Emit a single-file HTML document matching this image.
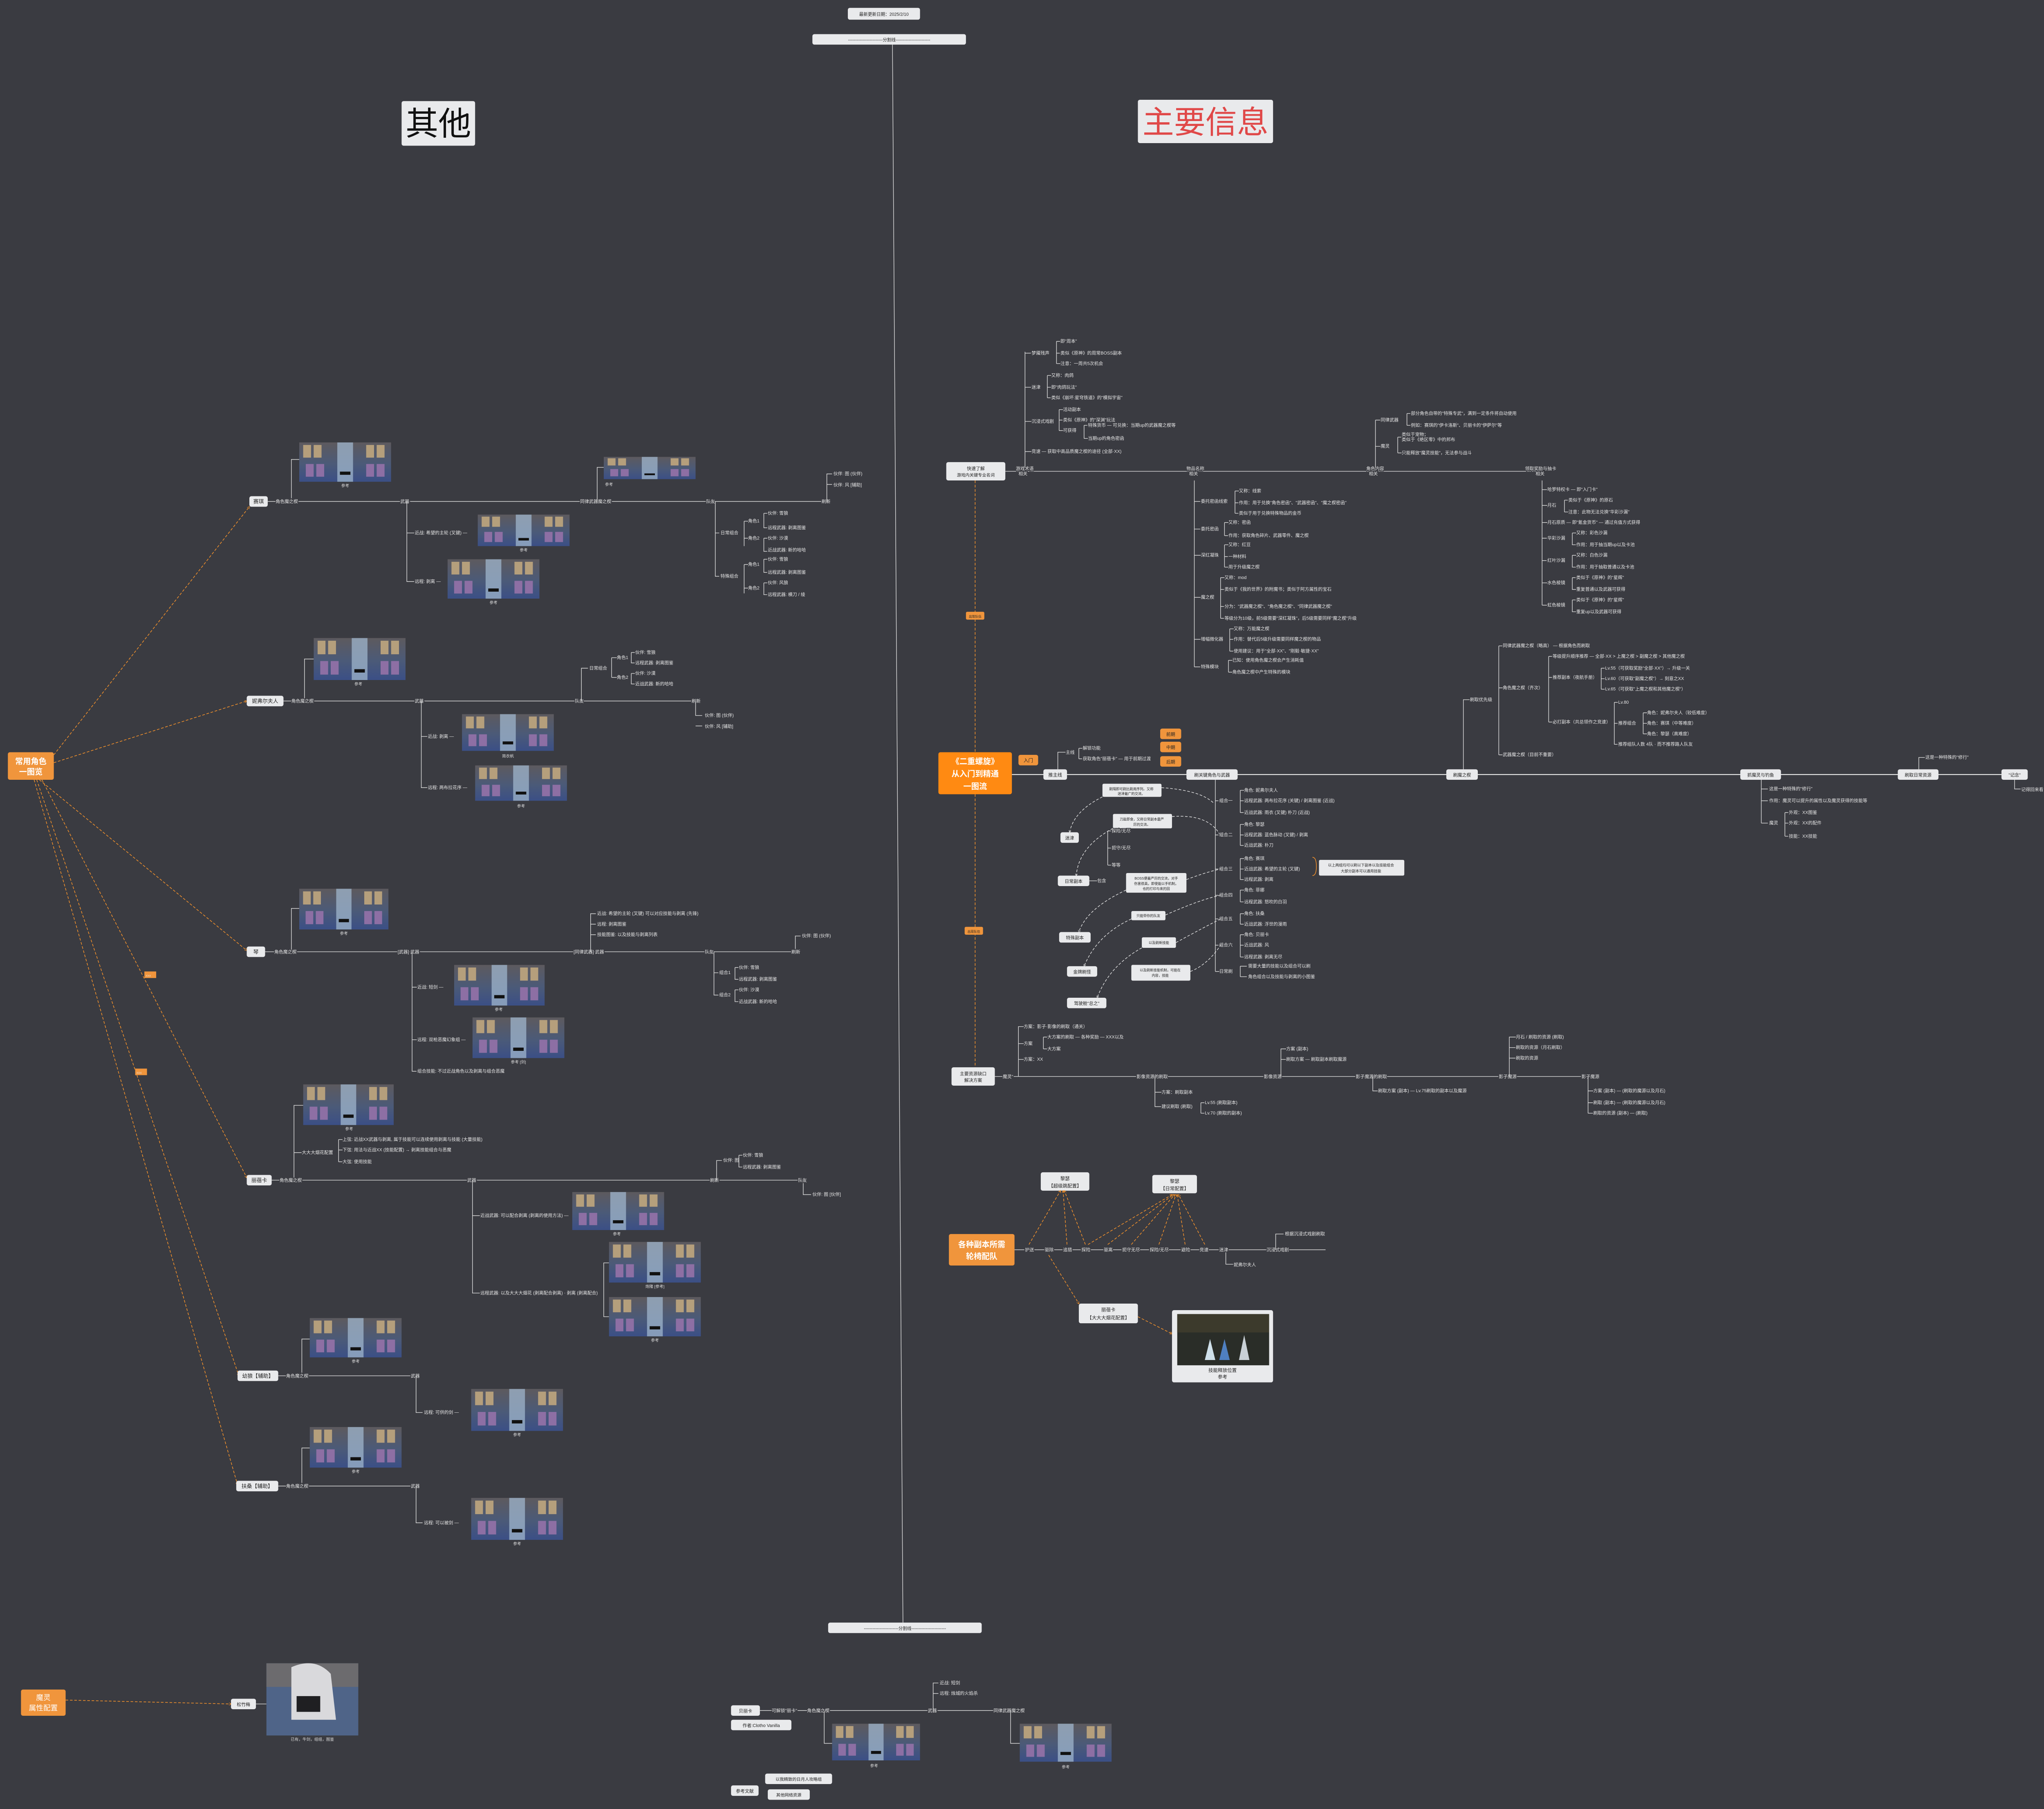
<!DOCTYPE html>
<html><head><meta charset="utf-8">
<style>
html,body{margin:0;padding:0;background:#3a3b41;}
svg{display:block;}
.t{font-family:"Liberation Sans","Noto Sans CJK SC",sans-serif;font-size:3.4px;fill:#e6e6e6;paint-order:stroke;stroke:#3a3b41;stroke-width:1.2px;}
.nt{font-family:"Liberation Sans","Noto Sans CJK SC",sans-serif;font-size:4px;fill:#222;text-anchor:middle;}
.ot{font-family:"Liberation Sans","Noto Sans CJK SC",sans-serif;font-weight:bold;fill:#fff;text-anchor:middle;}
.n{fill:#e9eaec;}
.o{fill:#f0953c;}
.l{stroke:#dcdcdc;stroke-width:0.45;fill:none;}
.L{stroke:#e6e6e6;stroke-width:0.7;fill:none;}
.od{stroke:#f0902c;stroke-width:0.5;fill:none;stroke-dasharray:2 1.3;}
.wd{stroke:#e6e6e6;stroke-width:0.45;fill:none;stroke-dasharray:2 1.3;}
.cap{font-family:"Liberation Sans","Noto Sans CJK SC",sans-serif;font-size:3px;fill:#ddd;text-anchor:middle;}
</style></head>
<body>
<svg width="5034" height="4424" viewBox="0 0 1568 1378" preserveAspectRatio="none" xmlns="http://www.w3.org/2000/svg">
<defs>
<linearGradient id="bg1" x1="0" y1="0" x2="0" y2="1">
<stop offset="0" stop-color="#5d5a5e"/><stop offset="0.55" stop-color="#4b5a78"/><stop offset="1" stop-color="#3b4f86"/>
</linearGradient>
<symbol id="th" viewBox="0 0 70 31" preserveAspectRatio="none">
<rect width="70" height="31" fill="url(#bg1)"/>
<rect x="29" y="0" width="12" height="31" fill="#9fb6cc" opacity="0.75"/>
<g fill="#b59f7c">
<rect x="3" y="2" width="6" height="10"/><rect x="11" y="2" width="6" height="10"/><rect x="51" y="2" width="6" height="10"/><rect x="59" y="2" width="6" height="10"/>
</g>
<g fill="#8d6fa4">
<rect x="5" y="17" width="6" height="10"/><rect x="13" y="17" width="6" height="10"/><rect x="51" y="17" width="6" height="10"/><rect x="59" y="17" width="6" height="10"/>
</g>
<rect x="31" y="23" width="8" height="2.5" fill="#111"/>
</symbol>
<marker id="ar" viewBox="0 0 6 6" refX="5" refY="3" markerWidth="4" markerHeight="4" orient="auto"><path d="M0 0L6 3L0 6" fill="none" stroke="#f0902c" stroke-width="1"/></marker>
<marker id="aw" viewBox="0 0 6 6" refX="5" refY="3" markerWidth="4" markerHeight="4" orient="auto"><path d="M0 0L6 3L0 6" fill="none" stroke="#e6e6e6" stroke-width="1"/></marker>
</defs>

<rect width="1568" height="1378" fill="#3a3b41"/>

<!-- top -->
<rect class="n" x="646" y="6" width="55" height="9" rx="1.5"/>
<text class="nt" x="673.5" y="12" style="font-size:3.3px">最新更新日期：2025/2/10</text>
<rect class="n" x="619" y="26" width="117" height="8" rx="1.5"/>
<text class="nt" x="677.5" y="31.5" style="font-size:3.3px">------------------------分割线------------------------</text>
<path class="l" d="M680 34 L688 1236"/>
<rect class="n" x="631" y="1236" width="117" height="8" rx="1.5"/>
<text class="nt" x="689.5" y="1241.5" style="font-size:3.3px">------------------------分割线------------------------</text>

<rect class="n" x="306" y="77" width="56" height="34" rx="1.5"/>
<text class="nt" x="334" y="103" style="font-size:25px;fill:#111">其他</text>
<rect class="n" x="867" y="76" width="103" height="33" rx="1.5"/>
<text class="nt" x="918.5" y="101.5" style="font-size:24px;fill:#e04848">主要信息</text>

<!-- ================= LEFT ================= -->
<rect class="o" x="6" y="573" width="35" height="21" rx="1.5"/>
<text class="ot" x="23.5" y="582" style="font-size:6px">常用角色</text>
<text class="ot" x="23.5" y="590" style="font-size:6px">一图览</text>
<path class="od" d="M41 575 L190 386" marker-end="url(#ar)"/>
<path class="od" d="M41 581 L188 534" marker-end="url(#ar)"/>
<path class="od" d="M30 594 L188 724" marker-end="url(#ar)"/>
<path class="od" d="M32 594 L188 897" marker-end="url(#ar)"/>
<path class="od" d="M28 594 L182 1048" marker-end="url(#ar)"/>
<path class="od" d="M26 594 L181 1131" marker-end="url(#ar)"/>
<rect class="o" x="110" y="740" width="9" height="5"/><text class="t" x="111" y="744" style="font-size:2px;stroke:none">XXX</text>
<rect class="o" x="103" y="814" width="9" height="5"/><text class="t" x="104" y="818" style="font-size:2px;stroke:none">XXX</text>

<!-- 赛琪 -->
<rect class="n" x="190" y="378" width="14" height="8" rx="1.5"/><text class="nt" x="197" y="383.5">赛琪</text>
<path class="l" d="M204 382 H630"/>
<path class="l" d="M222 382 V350 H228"/>
<use href="#th" x="228" y="337" width="70" height="30"/><text class="cap" x="263" y="371">参考</text>
<text class="t" x="210" y="383.2">角色魔之楔</text>
<text class="t" x="305" y="383.2">武器</text>
<text class="t" x="442" y="383.2">同律武器魔之楔</text>
<path class="l" d="M455 382 V356 H460"/>
<use href="#th" x="460" y="348" width="70" height="17"/><text class="cap" x="464" y="370">参考</text>
<text class="t" x="538" y="383.2">队友</text>
<text class="t" x="626" y="383.2">刷新</text>
<path class="l" d="M630 382 V361 H634 M630 369 H634"/>
<text class="t" x="635" y="362">伙伴: 图 (伙伴)</text><text class="t" x="635" y="370.5">伙伴: 风 [辅助]</text>
<path class="l" d="M310 382 V443 H316 M310 406 H316"/>
<text class="t" x="316" y="407">近战: 希望的主轮 (叉键) —</text>
<use href="#th" x="364" y="392" width="70" height="24"/><text class="cap" x="399" y="420">参考</text>
<text class="t" x="316" y="444">远程: 剥离 —</text>
<use href="#th" x="341" y="426" width="70" height="30"/><text class="cap" x="376" y="460">参考</text>
<path class="l" d="M545 382 V439 H548 M545 406 H548"/>
<text class="t" x="549" y="407">日常组合</text><text class="t" x="549" y="440">特殊组合</text>
<path class="l" d="M567 397 V416 M567 397 H570 M567 410 H570 M567 430 V452 M567 430 H570 M567 448 H570"/>
<text class="t" x="570" y="398">角色1</text><text class="t" x="570" y="411">角色2</text><text class="t" x="570" y="431">角色1</text><text class="t" x="570" y="449">角色2</text>
<path class="l" d="M582 391 V402 H585 M582 391 H585 M582 410 V420 H585 M582 410 H585 M582 426 V436 H585 M582 426 H585 M582 444 V453 H585 M582 444 H585"/>
<text class="t" x="585" y="392">伙伴: 雪狼</text><text class="t" x="585" y="403">远程武器: 剥离图鉴</text>
<text class="t" x="585" y="411">伙伴: 沙漠</text><text class="t" x="585" y="420">近战武器: 新的哈哈</text>
<text class="t" x="585" y="427">伙伴: 雪狼</text><text class="t" x="585" y="437">远程武器: 剥离图鉴</text>
<text class="t" x="585" y="445">伙伴: 风狼</text><text class="t" x="585" y="454">远程武器: 横刀 / 绫</text>

<!-- 妮弗尔夫人 -->
<rect class="n" x="188" y="530" width="28" height="8" rx="1.5"/><text class="nt" x="202" y="535.5">妮弗尔夫人</text>
<path class="l" d="M216 534 H530"/>
<path class="l" d="M232 534 V502 H239"/>
<use href="#th" x="239" y="486" width="70" height="32"/><text class="cap" x="273" y="522">参考</text>
<text class="t" x="222" y="535.2">角色魔之楔</text>
<text class="t" x="316" y="535.2">武器</text>
<text class="t" x="438" y="535.2">队友</text>
<text class="t" x="527" y="535.2">刷新</text>
<path class="l" d="M530 534 V545 H535 M530 553 H535"/>
<text class="t" x="537" y="546">伙伴: 图 (伙伴)</text><text class="t" x="537" y="554.5">伙伴: 风 [辅助]</text>
<path class="l" d="M443 534 V509 H448"/>
<text class="t" x="449" y="510">日常组合</text>
<path class="l" d="M466 501 V516 M466 501 H470 M466 516 H470"/>
<text class="t" x="470" y="502">角色1</text><text class="t" x="470" y="517">角色2</text>
<path class="l" d="M481 497 V505 H484 M481 497 H484 M481 513 V521 H484 M481 513 H484"/>
<text class="t" x="484" y="498">伙伴: 雪狼</text><text class="t" x="484" y="506">远程武器: 剥离图鉴</text>
<text class="t" x="484" y="514">伙伴: 沙漠</text><text class="t" x="484" y="522">近战武器: 新的哈哈</text>
<path class="l" d="M321 534 V600 H326 M321 561 H326"/>
<text class="t" x="326" y="562">近战: 剥离 —</text>
<use href="#th" x="352" y="544" width="70" height="28"/><text class="cap" x="387" y="577">简衣帆</text>
<text class="t" x="326" y="601">远程: 两布拉花序 —</text>
<use href="#th" x="362" y="583" width="70" height="27"/><text class="cap" x="397" y="615">参考</text>

<!-- 琴 -->
<rect class="n" x="188" y="721" width="14" height="8" rx="1.5"/><text class="nt" x="195" y="726.5">琴</text>
<path class="l" d="M202 725 H610"/>
<path class="l" d="M222 725 V692 H228"/>
<use href="#th" x="228" y="677" width="68" height="31"/><text class="cap" x="262" y="712">参考</text>
<text class="t" x="209" y="726.2">角色魔之楔</text>
<text class="t" x="303" y="726.2">[武器] 武器</text>
<text class="t" x="437" y="726.2">[同律武器] 武器</text>
<text class="t" x="537" y="726.2">队友</text>
<path class="l" d="M450 725 V696 H454 M450 704 H454 M450 712 H454"/>
<text class="t" x="455" y="697">近战: 希望的主轮 (叉键) 可以对应技能与剥离 (先锋)</text>
<text class="t" x="455" y="705">远程: 剥离图鉴</text>
<text class="t" x="455" y="713">技能图鉴: 以及技能与剥离列表</text>
<path class="l" d="M606 725 V713 H610"/>
<text class="t" x="603" y="726.2">刷新</text><text class="t" x="611" y="714">伙伴: 图 (伙伴)</text>
<path class="l" d="M314 725 V816 H318 M314 752 H318 M314 792 H318"/>
<text class="t" x="318" y="753">近战: 短剑 —</text>
<use href="#th" x="346" y="735" width="69" height="31"/><text class="cap" x="380" y="770">参考</text>
<text class="t" x="318" y="793">远程: 双枪恶魔幻象组 —</text>
<use href="#th" x="360" y="775" width="70" height="31"/><text class="cap" x="395" y="810">参考 [剑]</text>
<text class="t" x="318" y="817">组合技能: 不过近战角色以及剥离与组合恶魔</text>
<path class="l" d="M544 725 V758 H548 M544 741 H548"/>
<text class="t" x="548" y="742">组合1</text><text class="t" x="548" y="759">组合2</text>
<path class="l" d="M560 737 V746 H563 M560 737 H563 M560 754 V763 H563 M560 754 H563"/>
<text class="t" x="563" y="738">伙伴: 雪狼</text><text class="t" x="563" y="747">远程武器: 剥离图鉴</text>
<text class="t" x="563" y="755">伙伴: 沙漠</text><text class="t" x="563" y="764">近战武器: 新的哈哈</text>

<!-- 丽蓓卡 -->
<rect class="n" x="188" y="895" width="19" height="8" rx="1.5"/><text class="nt" x="197.5" y="900.5">丽蓓卡</text>
<path class="l" d="M207 899 H612"/>
<path class="l" d="M224 899 V842 H231 M224 878 H230"/>
<use href="#th" x="231" y="826" width="69" height="31"/><text class="cap" x="266" y="861">参考</text>
<text class="t" x="230" y="879">大大大烟花配置</text>
<path class="l" d="M258 868 V885 M258 868 H261 M258 876 H261 M258 885 H261"/>
<text class="t" x="261" y="869">上弦: 近战XX武器与剥离, 属于技能可以连续使用剥离与技能 (大量技能)</text>
<text class="t" x="261" y="877">下弦: 用法与近战XX (技能配置)  →  剥离技能组合与恶魔</text>
<text class="t" x="261" y="886">大弦: 使用技能</text>
<text class="t" x="213" y="900.2">角色魔之楔</text>
<text class="t" x="356" y="900.2">武器</text>
<text class="t" x="541" y="900.2">刷新</text>
<path class="l" d="M546 899 V884 H550"/>
<text class="t" x="551" y="885">伙伴: 图</text>
<path class="l" d="M563 880 V889 H566 M563 880 H566"/>
<text class="t" x="566" y="881">伙伴: 雪狼</text><text class="t" x="566" y="890">远程武器: 剥离图鉴</text>
<path class="l" d="M612 899 V910 H618"/>
<text class="t" x="608" y="900.2">队友</text><text class="t" x="619" y="911">伙伴: 图 [伙伴]</text>
<path class="l" d="M360 899 V985 H366 M360 926 H366"/>
<text class="t" x="366" y="927">近战武器: 可以配合剥离 (剥离的使用方法) —</text>
<use href="#th" x="436" y="908" width="70" height="29"/><text class="cap" x="470" y="941">参考</text>
<text class="t" x="366" y="986">远程武器: 以及大大大烟花 (剥离配合剥离) · 剥离 (剥离配合)</text>
<path class="l" d="M460 985 V962 H464 M460 985 V1003 H464"/>
<use href="#th" x="464" y="946" width="70" height="31"/><text class="cap" x="499" y="981">炮隆 [参考]</text>
<use href="#th" x="464" y="988" width="70" height="30"/><text class="cap" x="499" y="1022">参考</text>

<!-- 幼狼 -->
<rect class="n" x="181" y="1044" width="31" height="8" rx="1.5"/><text class="nt" x="196.5" y="1049.5">幼狼【辅助】</text>
<path class="l" d="M212 1048 H320"/>
<path class="l" d="M230 1048 V1020 H236"/>
<use href="#th" x="236" y="1004" width="70" height="30"/><text class="cap" x="271" y="1038">参考</text>
<text class="t" x="218" y="1049.2">角色魔之楔</text><text class="t" x="313" y="1049.2">武器</text>
<path class="l" d="M317 1048 V1076 H322"/>
<text class="t" x="323" y="1077">远程: 可供的剑 —</text>
<use href="#th" x="359" y="1058" width="70" height="32"/><text class="cap" x="394" y="1094">参考</text>

<!-- 扶桑 -->
<rect class="n" x="180" y="1128" width="32" height="8" rx="1.5"/><text class="nt" x="196" y="1133.5">扶桑【辅助】</text>
<path class="l" d="M212 1132 H320"/>
<path class="l" d="M230 1132 V1103 H236"/>
<use href="#th" x="236" y="1087" width="70" height="31"/><text class="cap" x="271" y="1122">参考</text>
<text class="t" x="218" y="1133.2">角色魔之楔</text><text class="t" x="313" y="1133.2">武器</text>
<path class="l" d="M317 1132 V1160 H322"/>
<text class="t" x="323" y="1161">远程: 可以被剑 —</text>
<use href="#th" x="359" y="1141" width="70" height="32"/><text class="cap" x="394" y="1177">参考</text>

<!-- bottom left -->
<rect class="o" x="16" y="1287" width="34" height="20" rx="1.5"/>
<text class="ot" x="33" y="1295" style="font-size:5.5px;font-weight:normal">魔灵</text>
<text class="ot" x="33" y="1303" style="font-size:5.5px;font-weight:normal">属性配置</text>
<path class="od" d="M50 1295 L176 1298" marker-end="url(#ar)"/>
<rect class="n" x="176" y="1294" width="19" height="8" rx="1.5"/><text class="nt" x="185.5" y="1299.5" style="font-size:3.4px">松竹梅</text>
<path class="l" d="M195 1298 H203"/>
<rect x="203" y="1267" width="70" height="55" fill="#4f6488"/>
<rect x="203" y="1267" width="70" height="18" fill="#6c6b6e"/>
<path d="M222 1270 Q240 1262 252 1275 L256 1310 L222 1310 Z" fill="#d9d9dc"/>
<rect x="226" y="1292" width="18" height="12" fill="#1f1f22"/>
<text class="cap" x="238" y="1326">已有，牛剑，组组，图鉴</text>

<!-- bottom center -->
<rect class="n" x="557" y="1299" width="22" height="8" rx="1.5"/><text class="nt" x="568" y="1304.5" style="font-size:3.4px">贝丽卡</text>
<rect class="n" x="557" y="1310" width="46" height="8" rx="1.5"/><text class="nt" x="580" y="1315.5" style="font-size:3.4px">作者:Clotho Vanilla</text>
<path class="l" d="M579 1303 H760"/>
<text class="t" x="588" y="1304.2">可解锁"丽卡"</text>
<text class="t" x="615" y="1304.2">角色魔之楔</text>
<text class="t" x="707" y="1304.2">武器</text>
<text class="t" x="757" y="1304.2">同律武器魔之楔</text>
<path class="l" d="M711 1303 V1282 H715 M711 1290 H715"/>
<text class="t" x="716" y="1283">近战: 短剑</text><text class="t" x="716" y="1291">远程: 烛城的火焰杀</text>
<path class="l" d="M628 1303 V1328 H634"/>
<use href="#th" x="634" y="1313" width="67" height="28"/><text class="cap" x="666" y="1346">参考</text>
<path class="l" d="M770 1303 V1328 H777"/>
<use href="#th" x="777" y="1313" width="70" height="29"/><text class="cap" x="812" y="1347">参考</text>
<rect class="n" x="557" y="1360" width="21" height="8" rx="1.5"/><text class="nt" x="567.5" y="1365.5" style="font-size:3.4px">参考文献</text>
<rect class="n" x="583" y="1351" width="51" height="8" rx="1.5"/><text class="nt" x="608.5" y="1356.5" style="font-size:3.2px">以我精致的日月人攻略组</text>
<rect class="n" x="585" y="1363" width="32" height="8" rx="1.5"/><text class="nt" x="601" y="1368.5" style="font-size:3.2px">其他网络资源</text>

<!-- ================= RIGHT ================= -->
<rect x="715" y="573" width="56" height="32" rx="1.5" fill="#ff8a12"/>
<text class="ot" x="743" y="582" style="font-size:6px">《二重螺旋》</text>
<text class="ot" x="743" y="591.5" style="font-size:6px">从入门到精通</text>
<text class="ot" x="743" y="601" style="font-size:6px">一图流</text>
<rect class="o" x="776" y="575" width="15" height="8" rx="1.5"/><text class="nt" x="783.5" y="580.5" style="font-size:3.6px">入门</text>
<path class="od" d="M743 366 V573 M743 605 V813"/>
<rect class="o" x="736" y="466" width="14" height="6" rx="1"/><text class="nt" x="743" y="470.5" style="font-size:2.4px">出现队伍</text>
<rect class="o" x="735" y="706" width="14" height="6" rx="1"/><text class="nt" x="742" y="710.5" style="font-size:2.4px">出现队伍</text>

<!-- main line -->
<path class="L" d="M771 590 H1525"/>
<rect class="n" x="795" y="586" width="18" height="8" rx="1.5"/><text class="nt" x="804" y="591.5" style="font-size:3.5px">推主线</text>
<path class="l" d="M806 586 V573 H812"/>
<text class="t" x="812" y="574.2">主线</text>
<path class="l" d="M822 570 V578 M822 570 H825 M822 578 H825"/>
<text class="t" x="825" y="571">解锁功能</text><text class="t" x="825" y="579">获取角色"丽蓓卡" — 用于前期过渡</text>
<rect class="o" x="884" y="555" width="16" height="8" rx="1.5"/><text class="nt" x="892" y="560.5" style="font-size:3.4px">前期</text>
<rect class="o" x="884" y="565" width="16" height="8" rx="1.5"/><text class="nt" x="892" y="570.5" style="font-size:3.4px">中期</text>
<rect class="o" x="884" y="576" width="16" height="8" rx="1.5"/><text class="nt" x="892" y="581.5" style="font-size:3.4px">后期</text>

<rect class="n" x="904" y="586" width="39" height="8" rx="1.5"/><text class="nt" x="923.5" y="591.5" style="font-size:3.4px">刷关键角色与武器</text>
<path class="l" d="M926 594 V740"/>
<g>
<path class="l" d="M926 610 H934 M926 636 H934 M926 662 H934 M926 682 H934 M926 700 H934 M926 720 H934 M926 740 H934"/>
<text class="t" x="929" y="611">组合一</text><text class="t" x="929" y="637">组合二</text><text class="t" x="929" y="663">组合三</text>
<text class="t" x="929" y="683">组合四</text><text class="t" x="929" y="701">组合五</text><text class="t" x="929" y="721">组合六</text><text class="t" x="929" y="741">日常刷</text>
<path class="l" d="M945 602 V619 M945 602 H948 M945 610 H948 M945 619 H948"/>
<text class="t" x="948" y="603">角色: 妮弗尔夫人</text><text class="t" x="948" y="611">远程武器: 两布拉花序 (关键) / 剥离图鉴 (近战)</text><text class="t" x="948" y="620">近战武器: 雨衣 (叉键) 朴刀 (近战)</text>
<path class="l" d="M945 628 V644 M945 628 H948 M945 636 H948 M945 644 H948"/>
<text class="t" x="948" y="629">角色: 黎瑟</text><text class="t" x="948" y="637">远程武器: 蓝色脉动 (叉键) / 剥离</text><text class="t" x="948" y="645">近战武器: 朴刀</text>
<path class="l" d="M945 654 V670 M945 654 H948 M945 662 H948 M945 670 H948"/>
<text class="t" x="948" y="655">角色: 赛琪</text><text class="t" x="948" y="663">近战武器: 希望的主轮 (叉键)</text><text class="t" x="948" y="671">远程武器: 剥离</text>
<path class="l" d="M945 678 V687 M945 678 H948 M945 687 H948"/>
<text class="t" x="948" y="679">角色: 菲娜</text><text class="t" x="948" y="688">远程武器: 怒吹的白羽</text>
<path class="l" d="M945 696 V704 M945 696 H948 M945 704 H948"/>
<text class="t" x="948" y="697">角色: 扶桑</text><text class="t" x="948" y="705">近战武器: 浮世的漫雨</text>
<path class="l" d="M945 712 V729 M945 712 H948 M945 720 H948 M945 729 H948"/>
<text class="t" x="948" y="713">角色: 贝丽卡</text><text class="t" x="948" y="721">近战武器: 风</text><text class="t" x="948" y="730">远程武器: 剥离无尽</text>
<path class="l" d="M945 736 V744 M945 736 H950 M945 744 H950"/>
<text class="t" x="951" y="737">需要大量的技能以及组合可以刷</text><text class="t" x="951" y="745">角色组合以及技能与剥离的小图鉴</text>
</g>
<path d="M1000 653 Q1003 653 1003 660 Q1003 667 1000 667" stroke="#f0902c" stroke-width="0.5" fill="none"/>
<rect class="n" x="1005" y="655" width="65" height="12" rx="1"/>
<text class="nt" x="1037" y="660" style="font-size:2.8px">以上两组均可以刷以下副本以及技能组合</text>
<text class="nt" x="1037" y="664.5" style="font-size:2.8px">大部分副本可以通用技能</text>

<!-- callouts -->
<rect class="n" x="840" y="597" width="45" height="10" rx="1"/><text class="nt" x="862" y="602" style="font-size:2.6px">刷隔即可刷比刷用序列。又称</text><text class="nt" x="862" y="605.5" style="font-size:2.6px">迷津最广的交流。</text>
<rect class="n" x="848" y="620" width="45" height="11" rx="1"/><text class="nt" x="870" y="625" style="font-size:2.6px">刀盐即食，又称日常副本最严</text><text class="nt" x="870" y="629" style="font-size:2.6px">厉的交流。</text>
<rect class="n" x="858" y="665" width="46" height="15" rx="1"/><text class="nt" x="881" y="670" style="font-size:2.6px">BOSS便最严厉的交流，对手</text><text class="nt" x="881" y="674" style="font-size:2.6px">伤害很高，即使能以手机制，</text><text class="nt" x="881" y="678" style="font-size:2.6px">也的打印与来的回</text>
<rect class="n" x="862" y="694" width="26" height="7" rx="1"/><text class="nt" x="875" y="698.5" style="font-size:2.6px">只能带你的队友</text>
<rect class="n" x="870" y="714" width="26" height="8" rx="1"/><text class="nt" x="883" y="719" style="font-size:2.6px">以及刷新技能</text>
<rect class="n" x="862" y="735" width="45" height="12" rx="1"/><text class="nt" x="884" y="740" style="font-size:2.6px">以及刷新技能机制，可能在</text><text class="nt" x="884" y="744" style="font-size:2.6px">内容，技能</text>
<rect class="n" x="808" y="634" width="14" height="8" rx="1.5"/><text class="nt" x="815" y="639.5" style="font-size:3.4px">迷津</text>
<rect class="n" x="806" y="667" width="24" height="8" rx="1.5"/><text class="nt" x="818" y="672.5" style="font-size:3.4px">日常副本</text>
<path class="l" d="M830 671 H836"/><text class="t" x="836" y="672">包含</text>
<path class="l" d="M844 633 V659 M844 633 H847 M844 646 H847 M844 659 H847"/>
<text class="t" x="847" y="634">探险/无尽</text><text class="t" x="847" y="647">扼守/无尽</text><text class="t" x="847" y="660">等等</text>
<rect class="n" x="807" y="710" width="24" height="8" rx="1.5"/><text class="nt" x="819" y="715.5" style="font-size:3.4px">特殊副本</text>
<rect class="n" x="813" y="736" width="23" height="8" rx="1.5"/><text class="nt" x="824.5" y="741.5" style="font-size:3.4px">金牌刷怪</text>
<rect class="n" x="813" y="760" width="30" height="8" rx="1.5"/><text class="nt" x="828" y="765.5" style="font-size:3.4px">驾驶舱"总之"</text>
<path class="wd" d="M885 600 Q915 602 925 612"/>
<path class="wd" d="M840 607 Q818 618 815 634" marker-end="url(#aw)"/>
<path class="wd" d="M893 622 Q920 620 929 635"/>
<path class="wd" d="M848 631 Q822 645 820 667" marker-end="url(#aw)"/>
<path class="wd" d="M904 670 Q920 664 930 662"/>
<path class="wd" d="M858 678 Q828 692 822 710" marker-end="url(#aw)"/>
<path class="wd" d="M888 697 Q915 685 930 682"/>
<path class="wd" d="M862 700 Q836 712 826 736" marker-end="url(#aw)"/>
<path class="wd" d="M896 718 Q920 705 930 700"/>
<path class="wd" d="M870 722 Q845 736 836 760" marker-end="url(#aw)"/>
<path class="wd" d="M907 740 Q920 735 930 720"/>

<!-- 快速了解 -->
<rect class="n" x="721" y="352" width="45" height="14" rx="1.5"/>
<text class="nt" x="743.5" y="358" style="font-size:3.4px">快速了解</text>
<text class="nt" x="743.5" y="363" style="font-size:3.2px">游戏内关键专业名词</text>
<path class="l" d="M766 359 H1175"/>
<text class="t" x="774" y="358">游戏术语</text><text class="t" x="776" y="362">相关</text>
<text class="t" x="904" y="358">物品名称</text><text class="t" x="906" y="362">相关</text>
<text class="t" x="1041" y="358">角色内容</text><text class="t" x="1043" y="362">相关</text>
<text class="t" x="1162" y="358">领取奖励与抽卡</text><text class="t" x="1170" y="362">相关</text>
<path class="l" d="M781 356 V268 M781 269 H786 M781 295 H786 M781 321 H786 M781 344 H786"/>
<text class="t" x="786" y="270">梦魇残声</text><text class="t" x="786" y="296">迷津</text><text class="t" x="786" y="322">沉浸式戏剧</text><text class="t" x="786" y="345">竞速 — 获取中高品质魔之楔的途径 (全部·XX)</text>
<path class="l" d="M805 260 V277 M805 260 H808 M805 269 H808 M805 277 H808"/>
<text class="t" x="808" y="261">即"周本"</text><text class="t" x="808" y="270">类似《原神》的周常BOSS副本</text><text class="t" x="808" y="278">注意：一周共5次机会</text>
<path class="l" d="M798 286 V303 M798 286 H801 M798 295 H801 M798 303 H801"/>
<text class="t" x="801" y="287">又称：肉鸽</text><text class="t" x="801" y="296">即"肉鸽玩法"</text><text class="t" x="801" y="304">类似《崩坏:星穹铁道》的"模拟宇宙"</text>
<path class="l" d="M807 312 V328 M807 312 H810 M807 320 H810 M807 328 H810"/>
<text class="t" x="810" y="313">活动副本</text><text class="t" x="810" y="321">类似《原神》的"深渊"玩法</text><text class="t" x="810" y="329">可获得</text>
<path class="l" d="M826 324 V334 M826 324 H829 M826 334 H829"/>
<text class="t" x="829" y="325">特殊货币 — 可兑换：当期up的武器魔之楔等</text><text class="t" x="829" y="335">当期up的角色密函</text>
<path class="l" d="M910 366 V508 M910 382 H915 M910 403 H915 M910 423 H915 M910 455 H915 M910 487 H915 M910 508 H915"/>
<text class="t" x="915" y="383">委托密函线索</text><text class="t" x="915" y="404">委托密函</text><text class="t" x="915" y="424">深红凝珠</text><text class="t" x="915" y="456">魔之楔</text><text class="t" x="915" y="488">增幅微化器</text><text class="t" x="915" y="509">特殊模块</text>
<path class="l" d="M941 374 V391 M941 374 H944 M941 383 H944 M941 391 H944"/>
<text class="t" x="944" y="375">又称：线索</text><text class="t" x="944" y="384">作用：用于兑换"角色密函"、"武器密函"、"魔之楔密函"</text><text class="t" x="944" y="392">类似于用于兑换特殊物品的金币</text>
<path class="l" d="M933 398 V408 M933 398 H936 M933 408 H936"/>
<text class="t" x="936" y="399">又称：密函</text><text class="t" x="936" y="409">作用：获取角色碎片、武器零件、魔之楔</text>
<path class="l" d="M933 415 V432 M933 415 H936 M933 424 H936 M933 432 H936"/>
<text class="t" x="936" y="416">又称：红豆</text><text class="t" x="936" y="425">一种材料</text><text class="t" x="936" y="433">用于升级魔之楔</text>
<path class="l" d="M930 440 V471 M930 440 H933 M930 449 H933 M930 462 H933 M930 471 H933"/>
<text class="t" x="933" y="441">又称：mod</text><text class="t" x="933" y="450">类似于《我的世界》的附魔书；类似于阿方属性的宝石</text><text class="t" x="933" y="463">分为："武器魔之楔"、"角色魔之楔"、"同律武器魔之楔"</text><text class="t" x="933" y="472">等级分为10级，前5级需要"深红凝珠"，后5级需要同样"魔之楔"升级</text>
<path class="l" d="M937 479 V496 M937 479 H940 M937 487 H940 M937 496 H940"/>
<text class="t" x="940" y="480">又称：万能魔之楔</text><text class="t" x="940" y="488">作用：替代后5级升级需要同样魔之楔的物品</text><text class="t" x="940" y="497">使用建议：用于"全部·XX"、"刚毅·敏捷·XX"</text>
<path class="l" d="M936 503 V512 M936 503 H939 M936 512 H939"/>
<text class="t" x="939" y="504">已知：使用角色魔之楔会产生消耗值</text><text class="t" x="939" y="513">角色魔之楔中产生特殊的模块</text>
<path class="l" d="M1048 356 V320 M1048 320 H1052 M1048 340 H1052"/>
<text class="t" x="1052" y="321">同律武器</text><text class="t" x="1052" y="341">魔灵</text>
<path class="l" d="M1072 315 V324 M1072 315 H1075 M1072 324 H1075"/>
<text class="t" x="1075" y="316">部分角色自带的"特殊专武"，满到一定条件将自动使用</text><text class="t" x="1075" y="325">例如：赛琪的"伊卡洛斯"、贝丽卡的"伊萨尔"等</text>
<path class="l" d="M1065 333 V345 M1065 333 H1068 M1065 345 H1068"/>
<text class="t" x="1068" y="332">类似于宠物；</text><text class="t" x="1068" y="336">类似于《绝区零》中的邦布</text><text class="t" x="1068" y="346">只能释放"魔灵技能"，无法参与战斗</text>
<path class="l" d="M1175 366 V461"/>
<path class="l" d="M1175 373 H1179 M1175 385 H1179 M1175 398 H1179 M1175 410 H1179 M1175 427 H1179 M1175 444 H1179 M1175 461 H1179"/>
<text class="t" x="1179" y="374">哈罗特权卡 — 即"入门卡"</text>
<text class="t" x="1179" y="386">月石</text><text class="t" x="1179" y="399">月石原质 — 即"氪金货币" — 通过充值方式获得</text>
<text class="t" x="1179" y="411">华彩沙漏</text><text class="t" x="1179" y="428">红叶沙漏</text><text class="t" x="1179" y="445">水色棱镜</text><text class="t" x="1179" y="462">虹色棱镜</text>
<path class="l" d="M1192 381 V390 M1192 381 H1195 M1192 390 H1195"/>
<text class="t" x="1195" y="382">类似于《原神》的原石</text><text class="t" x="1195" y="391">注意：此物无法兑换"华彩沙漏"</text>
<path class="l" d="M1198 406 V415 H1201 M1198 406 H1201 M1198 423 V432 H1201 M1198 423 H1201 M1198 440 V449 H1201 M1198 440 H1201 M1198 457 V466 H1201 M1198 457 H1201"/>
<text class="t" x="1201" y="407">又称：彩色沙漏</text><text class="t" x="1201" y="416">作用：用于抽当期up以及卡池</text>
<text class="t" x="1201" y="424">又称：白色沙漏</text><text class="t" x="1201" y="433">作用：用于抽取普通以及卡池</text>
<text class="t" x="1201" y="441">类似于《原神》的"星辉"</text><text class="t" x="1201" y="450">重复普通以及武器可获得</text>
<text class="t" x="1201" y="458">类似于《原神》的"星辉"</text><text class="t" x="1201" y="467">重复up以及武器可获得</text>

<!-- 刷魔之楔 -->
<rect class="n" x="1102" y="586" width="24" height="8" rx="1.5"/><text class="nt" x="1114" y="591.5" style="font-size:3.4px">刷魔之楔</text>
<path class="l" d="M1115 586 V533 H1120"/><text class="t" x="1120" y="534">刷取优先级</text>
<path class="l" d="M1142 492 V575 M1142 492 H1145 M1142 524 H1145 M1142 575 H1145"/>
<text class="t" x="1145" y="493">同律武器魔之楔（略高） — 根据角色而刷取</text>
<text class="t" x="1145" y="525">角色魔之楔（齐次）</text>
<text class="t" x="1145" y="576">武器魔之楔（目前不重要）</text>
<path class="l" d="M1180 500 V550 M1180 500 H1183 M1180 516 H1183 M1180 550 H1183"/>
<text class="t" x="1183" y="501">等级提升顺序推荐 — 全部·XX &gt; 上魔之楔 &gt; 副魔之楔 &gt; 其他魔之楔</text>
<text class="t" x="1183" y="517">推荐副本（夜航手册）</text>
<text class="t" x="1183" y="551">必打副本（共总领作之竞速）</text>
<path class="l" d="M1220 509 V525 M1220 509 H1223 M1220 517 H1223 M1220 525 H1223"/>
<text class="t" x="1223" y="510">Lv.55（可获取奖励"全部·XX"）→ 升级一关</text>
<text class="t" x="1223" y="518">Lv.60（可获取"副魔之楔"）→ 刻意之XX</text>
<text class="t" x="1223" y="526">Lv.65（可获取"上魔之楔和其他魔之楔"）</text>
<path class="l" d="M1230 535 V567 M1230 535 H1233 M1230 551 H1233 M1230 567 H1233"/>
<text class="t" x="1233" y="536">Lv.80</text><text class="t" x="1233" y="552">推荐组合</text><text class="t" x="1233" y="568">推荐组队人数 4队 · 而不推荐路人队友</text>
<path class="l" d="M1252 543 V559 M1252 543 H1255 M1252 551 H1255 M1252 559 H1255"/>
<text class="t" x="1255" y="544">角色：妮弗尔夫人（较低难度）</text><text class="t" x="1255" y="552">角色：赛琪（中等难度）</text><text class="t" x="1255" y="560">角色：黎瑟（高难度）</text>

<rect class="n" x="1326" y="586" width="31" height="8" rx="1.5"/><text class="nt" x="1341.5" y="591.5" style="font-size:3.4px">抓魔灵与钓鱼</text>
<path class="l" d="M1342 594 V627 M1342 601 H1347 M1342 610 H1347 M1342 627 H1347"/>
<text class="t" x="1348" y="602">这是一种特殊的"修行"</text><text class="t" x="1348" y="611">作用：魔灵可以提升的属性以及魔灵获得的技能等</text><text class="t" x="1348" y="628">魔灵</text>
<path class="l" d="M1360 619 V637 M1360 619 H1363 M1360 627 H1363 M1360 637 H1363"/>
<text class="t" x="1363" y="620">外观：XX图鉴</text><text class="t" x="1363" y="628">外观：XX的配件</text><text class="t" x="1363" y="638">技能：XX技能</text>

<rect class="n" x="1446" y="586" width="31" height="8" rx="1.5"/><text class="nt" x="1461.5" y="591.5" style="font-size:3.4px">刷取日常资源</text>
<path class="l" d="M1462 586 V577 H1467"/><text class="t" x="1467" y="578">这是一种特殊的"修行"</text>
<rect class="n" x="1525" y="586" width="20" height="8" rx="1.5"/><text class="nt" x="1535" y="591.5" style="font-size:3.4px">"记念"</text>
<path class="l" d="M1535 594 V601 H1540"/><text class="t" x="1540" y="602.5">记得回来看</text>

<!-- 主要资源缺口 -->
<rect class="n" x="725" y="813" width="33" height="14" rx="1.5"/>
<text class="nt" x="741.5" y="819" style="font-size:3.4px">主要资源缺口</text>
<text class="nt" x="741.5" y="824" style="font-size:3.4px">解决方案</text>
<path class="l" d="M758 820 H1215"/>
<text class="t" x="764" y="821.2">魔灵"</text><text class="t" x="866" y="821.2">影像资源的刷取</text><text class="t" x="963" y="821.2">影像资源</text>
<text class="t" x="1033" y="821.2">影子魔源的刷取</text><text class="t" x="1142" y="821.2">影子魔源</text><text class="t" x="1205" y="821.2">影子魔源</text>
<path class="l" d="M776 820 V782 H780 M776 795 H780 M776 807 H780"/>
<text class="t" x="780" y="783">方案：影子·影像的刷取（通关）</text><text class="t" x="780" y="796">方案</text><text class="t" x="780" y="808">方案：XX</text>
<path class="l" d="M795 790 V799 M795 790 H798 M795 799 H798"/>
<text class="t" x="798" y="791">大方案的刷取 — 各种奖励 — XXX以及</text><text class="t" x="798" y="800">大方案</text>
<path class="l" d="M880 820 V843 H885 M880 832 H885"/>
<text class="t" x="885" y="833">方案：刷取副本</text><text class="t" x="885" y="844">建议刷取 (刷取)</text>
<path class="l" d="M915 840 V848 M915 840 H918 M915 848 H918"/>
<text class="t" x="918" y="841">Lv.55 (刷取副本)</text><text class="t" x="918" y="849">Lv.70 (刷取的副本)</text>
<path class="l" d="M976 820 V799 H980 M976 807 H980"/>
<text class="t" x="980" y="800">方案 (副本)</text><text class="t" x="980" y="808">刷取方案 — 刷取副本刷取魔源</text>
<path class="l" d="M1046 820 V831 H1050"/><text class="t" x="1050" y="832">刷取方案 (副本) — Lv.75刷取的副本以及魔源</text>
<path class="l" d="M1150 820 V790 H1155 M1150 798 H1155 M1150 806 H1155"/>
<text class="t" x="1155" y="791">月石 / 刷取的资源 (刷取)</text><text class="t" x="1155" y="799">刷取的资源（月石刷取）</text><text class="t" x="1155" y="807">刷取的资源</text>
<path class="l" d="M1210 820 V848 M1210 831 H1214 M1210 840 H1214 M1210 848 H1214"/>
<text class="t" x="1214" y="832">方案 (副本) — (刷取的魔源以及月石)</text><text class="t" x="1214" y="841">刷取 (副本) — (刷取的魔源以及月石)</text><text class="t" x="1214" y="849">刷取的资源 (副本) — (刷取)</text>

<!-- 副本配队 -->
<rect class="o" x="723" y="940" width="50" height="24" rx="1.5"/>
<text class="ot" x="748" y="950" style="font-size:6px">各种副本所需</text>
<text class="ot" x="748" y="959" style="font-size:6px">轮椅配队</text>
<path class="l" d="M773 952 H1010"/>
<text class="t" x="781" y="953.2">护送</text><text class="t" x="796" y="953.2">驱除</text><text class="t" x="810" y="953.2">追猎</text>
<text class="t" x="824" y="953.2">探险</text><text class="t" x="841" y="953.2">驱离</text><text class="t" x="855" y="953.2">扼守无尽</text>
<text class="t" x="876" y="953.2">探险/无尽</text><text class="t" x="900" y="953.2">避险</text><text class="t" x="914" y="953.2">竞速</text>
<text class="t" x="929" y="953.2">迷津</text><text class="t" x="965" y="953.2">沉浸式戏剧</text>
<path class="l" d="M972 952 V940 H978"/><text class="t" x="979" y="941">根据沉浸式戏剧刷取</text>
<path class="l" d="M934 954 V963 H940"/><text class="t" x="940" y="964.5">妮弗尔夫人</text>
<rect class="n" x="793" y="893" width="37" height="14" rx="1.5"/>
<text class="nt" x="811.5" y="899" style="font-size:3.6px">黎瑟</text><text class="nt" x="811.5" y="904.5" style="font-size:3.6px">【超级跳配置】</text>
<rect class="n" x="878" y="895" width="34" height="14" rx="1.5"/>
<text class="nt" x="895" y="901" style="font-size:3.6px">黎瑟</text><text class="nt" x="895" y="906.5" style="font-size:3.6px">【日常配置】</text>
<path class="od" d="M784 948 L808 907" marker-end="url(#ar)"/>
<path class="od" d="M813 948 L810 907" marker-end="url(#ar)"/>
<path class="od" d="M827 948 L811 907" marker-end="url(#ar)"/>
<path class="od" d="M829 948 L893 910" marker-end="url(#ar)"/>
<path class="od" d="M844 948 L894 910" marker-end="url(#ar)"/>
<path class="od" d="M862 948 L895 910" marker-end="url(#ar)"/>
<path class="od" d="M883 948 L896 910" marker-end="url(#ar)"/>
<path class="od" d="M903 948 L897 910" marker-end="url(#ar)"/>
<path class="od" d="M918 948 L898 910" marker-end="url(#ar)"/>
<path class="od" d="M799 956 L822 993" marker-end="url(#ar)"/>
<rect class="n" x="822" y="993" width="45" height="15" rx="1.5"/>
<text class="nt" x="844.5" y="999" style="font-size:3.6px">丽蓓卡</text><text class="nt" x="844.5" y="1005" style="font-size:3.6px">【大大大烟花配置】</text>
<path class="od" d="M867 1003 L893 1016" marker-end="url(#ar)"/>
<rect class="n" x="893" y="998" width="77" height="55" rx="1.5"/>
<rect x="897" y="1001" width="70" height="39" fill="#2a2d28"/>
<rect x="897" y="1001" width="70" height="14" fill="#3c3a2c"/>
<path d="M922 1020 L926 1036 L918 1036 Z" fill="#cfe0ea"/>
<path d="M933 1020 L937 1036 L929 1036 Z" fill="#4f7fc0"/>
<path d="M948 1017 L952 1036 L944 1036 Z" fill="#c9d0d6"/>
<text class="nt" x="931.5" y="1045" style="font-size:3.6px">技能释放位置</text>
<text class="nt" x="931.5" y="1050" style="font-size:3.6px">参考</text>
</svg>
</body></html>
